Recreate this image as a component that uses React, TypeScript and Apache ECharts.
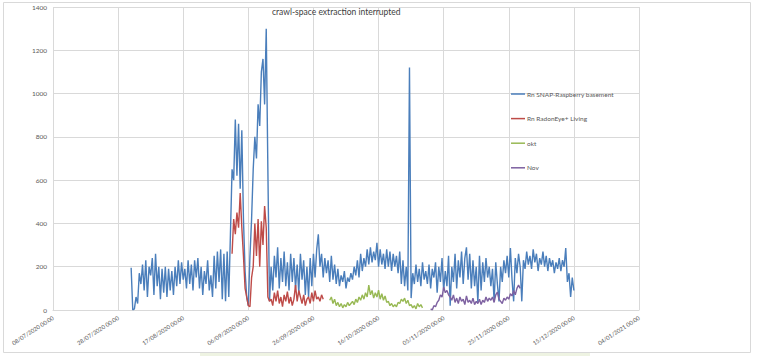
import React, { useEffect, useRef } from "react";
import * as echarts from "echarts";

// x axis: days since 08/07/2020 00:00, ticks every 20 days
const AXIS_START = Date.UTC(2020, 6, 8);
const AXIS_MIN_DAY = 0;
const AXIS_MAX_DAY = 180;
const TICK_DAYS = 20;
const STEP_DAYS = 0.5; // one reading every 12 hours

const seriesNames = ["Rn SNAP-Raspberry basement", "Rn RadonEye+ Living", "okt", "Nov"];
const seriesColors = ["#4A7EBB", "#BE4B48", "#98B954", "#7D60A0"];

const titleText = "crawl-space extraction interrupted";

// Rn SNAP-Raspberry basement, starts 01/08/2020
const basementStartDay = 24;
const basement = [
  195, 0, 5, 60, 30, 170, 120, 210, 90, 230,
  60, 200, 160, 240, 70, 260, 110, 200, 50, 190,
  80, 200, 60, 190, 90, 180, 70, 200, 110, 230,
  120, 220, 140, 190, 100, 230, 120, 210, 90, 230,
  150, 240, 100, 200, 70, 180, 120, 230, 90, 160,
  60, 250, 100, 270, 130, 280, 50, 260, 40, 270,
  60, 350, 650, 600, 880, 620, 860, 560, 830, 420,
  180, 60, 20, 250, 420, 650, 800, 700, 950, 850,
  1100, 1160, 950, 1300, 650, 40,
  200, 90, 250, 150, 290, 100, 240, 130, 270, 110,
  220, 90, 260, 130, 240, 100, 210, 80, 260, 140,
  230, 70, 200, 60, 240, 110, 260, 150, 280, 350,
  200, 260, 150, 240, 170, 230, 130, 250, 140, 210,
  120, 190, 110, 160, 130, 180, 100, 150, 130, 170,
  140, 200, 160, 230, 150, 260, 180, 240, 200, 280,
  210, 290, 220, 270, 230, 310, 200, 280, 210, 260,
  190, 280, 200, 270, 180, 260, 200, 250, 170, 270,
  120, 230, 110, 200, 90, 1120, 55, 170, 120, 210,
  130, 190, 110, 220, 140, 180, 120, 210, 100, 190,
  150, 220, 80, 200, 130, 240, 90, 180, 110, 250,
  20, 200, 130, 260, 100, 230, 150, 270, 120, 240,
  290, 140, 260, 100, 230, 110, 200, 35, 250, 90,
  220, 130, 240, 150, 200, 110, 190, 40, 220, 120,
  40, 200, 130, 230, 170, 250, 150, 286, 140, 40,
  240, 170, 260, 200, 40, 230, 190, 270, 210, 250,
  190, 280, 220, 260, 180, 240, 210, 270, 200, 250,
  180, 240, 200, 230, 170, 220, 190, 240, 180, 230,
  200, 286, 130, 170, 60, 150, 90,
];

// Rn RadonEye+ Living, starts 01/09/2020
const livingStartDay = 55;
const living = [
  260, 420, 350, 450, 380, 540, 380, 250, 100, 60,
  20, 15, 150, 200, 400, 250, 420, 200, 410, 300,
  480, 380, 60, 40,
  50, 20, 80, 40, 90, 30, 60, 15, 70, 40,
  85, 30, 60, 20, 50, 115, 40, 90, 60, 30,
  70, 20, 50, 60, 30, 80, 40, 90, 50, 60,
  40, 70, 50,
];

// okt, starts 01/10/2020
const oktStartDay = 85;
const okt = [
  45, 60, 30, 50, 20, 35, 15, 30, 10, 25,
  15, 35, 20, 30, 40, 25, 50, 35, 60, 45,
  70, 50, 80, 60, 115, 70, 90, 55, 80, 60,
  92, 50, 75, 45, 65, 35, 40, 20, 30, 15,
  25, 15, 35, 30, 50, 40, 55, 30, 45, 20,
  25, 10, 20, 5, 30, 15, 25, 10,
];

// Nov, starts 01/11/2020
const novStartDay = 116;
const nov = [
  5, 0, 20, 15, 35, 45, 70, 60, 106, 80,
  90, 70, 60, 45, 70, 35, 55, 30, 60, 40,
  50, 25, 65, 35, 45, 30, 55, 25, 40, 30,
  50, 25, 45, 35, 60, 40, 55, 45, 60, 35,
  70, 83, 50, 40, 30, 55, 45, 60, 50, 75,
  65, 90, 70, 100, 115, 100,
];

const yMin = 0;
const yMax = 1400;
const yInterval = 200;

const pad = (n: number) => (n < 10 ? "0" + n : "" + n);
const formatDay = (day: number) => {
  const d = new Date(AXIS_START + day * 86400000);
  return `${pad(d.getUTCDate())}/${pad(d.getUTCMonth() + 1)}/${d.getUTCFullYear()} 00:00`;
};

const toPairs = (startDay: number, values: number[]) =>
  values.map((v, i) => [startDay + i * STEP_DAYS, v]);

const FONT = "Lato";

export default function App() {
  const ref = useRef<HTMLDivElement>(null);

  useEffect(() => {
    if (!ref.current) return;
    const chart = echarts.init(ref.current, undefined, { renderer: "svg" });
    const datasets = [
      toPairs(basementStartDay, basement),
      toPairs(livingStartDay, living),
      toPairs(oktStartDay, okt),
      toPairs(novStartDay, nov),
    ];
    chart.setOption({
      animation: false,
      backgroundColor: "#ffffff",
      textStyle: { fontFamily: FONT },
      title: {
        text: titleText,
        left: 272,
        top: 7,
        padding: 0,
        textStyle: { fontSize: 8.5, fontWeight: "normal", color: "#404040", fontFamily: FONT },
      },
      legend: {
        data: seriesNames,
        orient: "vertical",
        left: 511,
        top: 90,
        padding: 0,
        itemWidth: 14,
        itemHeight: 1.5,
        itemGap: 16.6,
        icon: "rect",
        textStyle: { fontSize: 6.5, color: "#595959", lineHeight: 8, fontFamily: FONT, padding: [0, 0, 0, -3] },
      },
      grid: { left: 53, right: 121, top: 7, bottom: 46, containLabel: false },
      xAxis: {
        type: "value",
        min: AXIS_MIN_DAY,
        max: AXIS_MAX_DAY,
        interval: TICK_DAYS,
        axisLine: { show: true, lineStyle: { color: "#d9d9d9", width: 1 } },
        axisTick: { show: false },
        splitLine: { show: true, lineStyle: { color: "#d9d9d9", width: 1 } },
        axisLabel: {
          formatter: (v: number) => formatDay(v),
          rotate: 33,
          margin: 7,
          fontSize: 5.8,
          color: "#595959",
          fontFamily: FONT,
          showMinLabel: true,
          showMaxLabel: true,
        },
      },
      yAxis: {
        type: "value",
        min: yMin,
        max: yMax,
        interval: yInterval,
        axisLine: { show: false },
        axisTick: { show: false },
        splitLine: { show: true, lineStyle: { color: "#d9d9d9", width: 1 } },
        axisLabel: {
          formatter: (v: number) => String(v),
          fontSize: 6.5,
          color: "#595959",
          margin: 6,
          fontFamily: FONT,
        },
      },
      series: seriesNames.map((name, i) => ({
        name,
        type: "line",
        data: datasets[i],
        showSymbol: false,
        symbol: "none",
        color: seriesColors[i],
        lineStyle: { color: seriesColors[i], width: 1.4 },
        z: i === 0 ? 2 : 3,
      })),
      graphic: [
        {
          type: "rect",
          shape: { x: 3.5, y: 2.5, width: 747, height: 350 },
          style: { fill: "none", stroke: "#d9d9d9", lineWidth: 1 },
          silent: true,
        },
        {
          type: "rect",
          shape: { x: 200, y: 353, width: 390, height: 3 },
          style: { fill: "#eef3e2" },
          silent: true,
        },
      ],
    });
    return () => chart.dispose();
  }, []);

  return (
    <div
      ref={ref}
      style={{ position: "absolute", left: 0, top: 0, width: 760, height: 356 }}
    />
  );
}
